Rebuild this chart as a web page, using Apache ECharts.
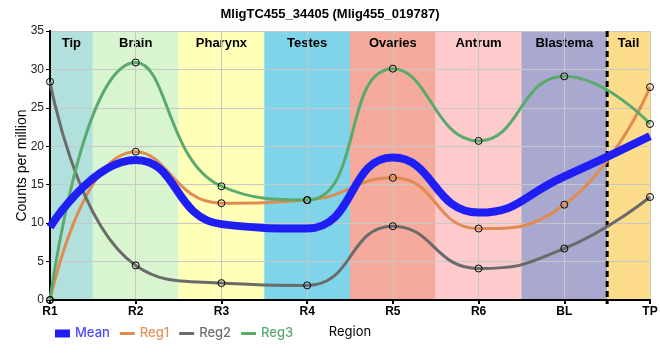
<!DOCTYPE html>
<html><head><meta charset="utf-8">
<script src="https://cdn.jsdelivr.net/npm/echarts@6/dist/echarts.min.js"></script>
<style>html,body{margin:0;padding:0;background:#fff}#c{width:660px;height:360px}</style>
</head><body><div id="c"></div>
<script>
const titleText = 'MligTC455_34405 (Mlig455_019787)';
const categories = ['R1','R2','R3','R4','R5','R6','BL','TP'];
const reg1 = [0, 19.3, 12.6, 13.0, 15.9, 9.3, 12.4, 27.7];
const reg2 = [28.4, 4.5, 2.2, 1.9, 9.6, 4.1, 6.7, 13.4];
const reg3 = [0, 30.9, 14.8, 13.0, 30.1, 20.7, 29.1, 22.9];
const meanVals = [9.47, 18.23, 9.87, 9.3, 18.53, 11.37, 16.07, 21.33];
const regionNames = ['Tip','Brain','Pharynx','Testes','Ovaries','Antrum','Blastema','Tail'];
const regionStarts = [0, 0.5, 1.5, 2.5, 3.5, 4.5, 5.5, 6.5];
const regionEnds   = [0.5, 1.5, 2.5, 3.5, 4.5, 5.5, 6.5, 7];
const regionColors = ['#b2e0dc','#d9f5d0','#ffffb8','#7fd4ea','#f5aa9c','#fdcbcb','#a9a8cf','#fddc8c'];
const dashedAt = [6.5];
const yTicks = {min: 0, max: 35, interval: 5};

const FONT = '"Liberation Sans", Arial, sans-serif';
const pairs = arr => arr.map((v, i) => [i, v]);
const bandData = regionNames.map((n, i) => [regionStarts[i], regionEnds[i], n, i]);

const chart = echarts.init(document.getElementById('c'));
const lineSeries = (name, data, color, width, z) => ({
  name, type: 'line', data: pairs(data), smooth: 0.5, z,
  symbol: 'circle', symbolSize: 7, showSymbol: name !== 'Mean',
  lineStyle: {color, width},
  itemStyle: {color: name === 'Mean' ? color : 'rgba(0,0,0,0)', borderColor: name === 'Mean' ? color : '#000', borderWidth: 1},
  emphasis: {disabled: true},
  color
});
const lineIcon = 'path://M0,0H15V3H0Z';

chart.setOption({
  animation: false,
  title: {text: titleText, left: 'center', top: 3,
    textStyle: {fontFamily: FONT, fontSize: 13, fontWeight: 'bold', color: '#000'}},
  grid: {left: 50, right: 10, top: 31, bottom: 60, containLabel: false, outerBoundsMode: 'none'},
  legend: {
    left: 50, top: 322, itemWidth: 15, itemHeight: 8, itemGap: 10,
    data: [
      {name: 'Mean', icon: 'rect', itemStyle: {color: '#1f1ff5', borderWidth: 0}, textStyle: {color: '#4a4aff'}},
      {name: 'Reg1', icon: lineIcon, itemStyle: {color: '#e08c50', borderWidth: 0}, textStyle: {color: '#e8925a'}},
      {name: 'Reg2', icon: lineIcon, itemStyle: {color: '#6b6b6b', borderWidth: 0}, textStyle: {color: '#707070'}},
      {name: 'Reg3', icon: lineIcon, itemStyle: {color: '#5aaa6e', borderWidth: 0}, textStyle: {color: '#5aaa6e'}}
    ],
    textStyle: {fontFamily: 'Inter, Roboto, sans-serif', fontSize: 13, fontWeight: 500}
  },
  xAxis: [{
    type: 'value', min: 0, max: categories.length - 1, interval: 1, z: 1,
    name: 'Region', nameLocation: 'middle', nameGap: 26, nameMoveOverlap: false,
    nameTextStyle: {fontFamily: 'Inter, Roboto, sans-serif', fontSize: 13, color: '#000'},
    axisLine: {lineStyle: {color: '#000', width: 2}},
    axisTick: {show: true, length: 4, lineStyle: {color: '#000', width: 2}},
    axisLabel: {formatter: v => categories[v] || '', fontFamily: FONT, fontSize: 12, fontWeight: 'bold', color: '#000', margin: 6},
    splitLine: {show: true, lineStyle: {color: '#c8c8c8', width: 1}}
  }, {
    type: 'value', position: 'top', min: 0, max: categories.length - 1, z: 1,
    axisLine: {show: true, lineStyle: {color: '#000', width: 2}},
    axisTick: {show: false}, axisLabel: {show: false}, splitLine: {show: false}
  }],
  yAxis: [{
    type: 'value', min: yTicks.min, max: yTicks.max, interval: yTicks.interval, z: 1,
    name: 'Counts per million', nameLocation: 'middle', nameGap: 21, nameMoveOverlap: false,
    nameTextStyle: {fontFamily: FONT, fontSize: 14, color: '#000'},
    axisLine: {show: true, lineStyle: {color: '#000', width: 2}},
    axisTick: {show: true, length: 4, lineStyle: {color: '#000'}},
    axisLabel: {fontFamily: FONT, fontSize: 12, color: '#222', margin: 6},
    splitLine: {show: true, lineStyle: {color: '#c8c8c8', width: 1}}
  }, {
    type: 'value', position: 'right', min: yTicks.min, max: yTicks.max, z: 1,
    axisLine: {show: true, lineStyle: {color: '#000', width: 2}},
    axisTick: {show: false}, axisLabel: {show: false}, splitLine: {show: false}
  }],
  series: [
    {
      type: 'custom', z: 0, silent: true, data: bandData,
      renderItem: (params, api) => {
        const x0 = api.coord([api.value(0), yTicks.max]);
        const x1 = api.coord([api.value(1), yTicks.min]);
        const i = api.value(3);
        return {type: 'group', children: [{
          type: 'rect', shape: {x: x0[0], y: x0[1], width: x1[0] - x0[0], height: x1[1] - x0[1]},
          style: {fill: regionColors[i]}
        }, {
          type: 'text', x: (x0[0] + x1[0]) / 2, y: x0[1] + 12,
          style: {text: regionNames[i], fontFamily: FONT, fontSize: 13, fontWeight: 'bold',
            fill: '#000', align: 'center', verticalAlign: 'middle'}
        }]};
      }
    },
    lineSeries('Reg1', reg1, '#e08c50', 3, 3),
    lineSeries('Reg2', reg2, '#6b6b6b', 3, 3),
    lineSeries('Reg3', reg3, '#5aaa6e', 3, 3),
    lineSeries('Mean', meanVals, '#1f1ff5', 8, 4),
    {
      type: 'custom', z: 2, silent: true, data: dashedAt.map(v => [v]),
      renderItem: (params, api) => {
        const top = api.coord([api.value(0), yTicks.max]);
        const bot = api.coord([api.value(0), yTicks.min]);
        return {type: 'line', shape: {x1: top[0], y1: top[1], x2: bot[0], y2: bot[1] + 4},
          style: {stroke: '#000', lineWidth: 3, lineDash: [6, 4]}};
      }
    }
  ]
});
</script></body></html>
